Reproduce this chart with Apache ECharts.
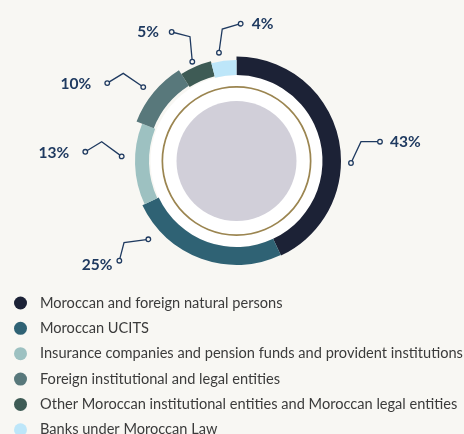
<!DOCTYPE html>
<html>
<head>
<meta charset="utf-8">
<style>
  html, body { margin: 0; padding: 0; background: #f8f7f3; }
  #chart { width: 464px; height: 434px; }
</style>
<script src="https://cdn.jsdelivr.net/npm/echarts@6/dist/echarts.min.js"></script>
</head>
<body>
<div id="chart"></div>
<script>
// shareholding structure, in %
var categories = [
  'Moroccan and foreign natural persons',
  'Moroccan UCITS',
  'Insurance companies and pension funds and provident institutions',
  'Foreign institutional and legal entities',
  'Other Moroccan institutional entities and Moroccan legal entities',
  'Banks under Moroccan Law'
];
var shares = [43, 25, 13, 10, 5, 4];
var colors = ['#1c2236', '#2f6274', '#9dc1c1', '#58787b', '#3e5b55', '#bde6f9'];

var navy = '#1f3a60';
var cx = 236.5, cy = 161;
// each slice has its own ring width
var ringRadius = [[86, 104.5], [86, 104], [87.5, 101.5], [89, 107.5], [87.5, 103], [86, 101]];
// leader lines: anchor angle shift (deg) + radius, then bend / end offsets from the anchor
var leaders = [
  { shift: 13.6, r: 114.5, bend: [10, -21.3], end: [29, -21.3], gap: [10, 0], align: 'left' },
  { shift: 28.6, r: 117.9, bend: [-24.3, 3.4], end: [-29, 21.4], gap: [-7, 4], align: 'right' },
  { shift: 4.1, r: 114.9, bend: [-20, -14.6], end: [-36.4, -4.6], gap: [-16, 1], align: 'right' },
  { shift: -1.2, r: 119, bend: [-20, -13.7], end: [-36, -4], gap: [-16, 1], align: 'right' },
  { shift: -0.6, r: 108.7, bend: [-2.3, -25], end: [-20.6, -29.7], gap: [-12.7, 0.3], align: 'right' },
  { shift: -2, r: 109.7, bend: [3.3, -23.7], end: [21.7, -29], gap: [11, 0], align: 'left' }
];

var total = shares.reduce(function (a, b) { return a + b; }, 0);

var series = [];
var graphics = [];
var cum = 0;

// white disc, gold ring and grey centre
series.push({ type: 'pie', silent: true, center: [cx, cy], radius: [0, 86], label: { show: false },
  data: [{ value: 1, itemStyle: { color: '#ffffff' } }] });
series.push({ type: 'pie', silent: true, center: [cx, cy], radius: [73.3, 75], label: { show: false },
  data: [{ value: 1, itemStyle: { color: '#9b8550' } }] });
series.push({ type: 'pie', silent: true, center: [cx, cy], radius: [0, 60], label: { show: false },
  data: [{ value: 1, itemStyle: { color: '#d1cfd9' } }] });

shares.forEach(function (v, i) {
  var L = leaders[i];
  var mid = (cum + v / 2) / total * 360 + L.shift;
  var a = mid * Math.PI / 180;
  var anchor = [cx + L.r * Math.sin(a), cy - L.r * Math.cos(a)];
  var bend = [anchor[0] + L.bend[0], anchor[1] + L.bend[1]];
  var end = [anchor[0] + L.end[0], anchor[1] + L.end[1]];
  var textPos = [end[0] + L.gap[0], end[1] + L.gap[1]];

  series.push({
    type: 'pie',
    silent: true,
    center: [cx, cy],
    radius: ringRadius[i],
    startAngle: 90 - cum / total * 360,
    clockwise: true,
    avoidLabelOverlap: false,
    emphasis: { disabled: true },
    label: {
      show: true,
      formatter: '{c}%',
      color: navy,
      fontFamily: 'Lato',
      fontWeight: 'bold',
      fontSize: 15.5
    },
    labelLine: { show: true, lineStyle: { color: navy, width: 1.3 } },
    labelLayout: function () {
      return {
        x: textPos[0],
        y: textPos[1],
        align: L.align,
        verticalAlign: 'middle',
        labelLinePoints: [anchor, bend, end]
      };
    },
    data: [
      { name: categories[i], value: v, itemStyle: { color: colors[i] } },
      { name: '', value: total - v, itemStyle: { color: 'transparent' },
        label: { show: false }, labelLine: { show: false } }
    ]
  });

  [anchor, end].forEach(function (p) {
    graphics.push({
      type: 'circle', z: 100,
      shape: { cx: p[0], cy: p[1], r: 2.3 },
      style: { fill: '#f8f7f3', stroke: navy, lineWidth: 1.3 }
    });
  });

  cum += v;
});

var chart = echarts.init(document.getElementById('chart'));
chart.setOption({
  backgroundColor: '#f8f7f3',
  animation: false,
  legend: {
    orient: 'vertical',
    left: 14,
    top: 295.5,
    height: 220,
    padding: 0,
    icon: 'circle',
    itemWidth: 13,
    itemHeight: 13,
    itemGap: 10.35,
    selectedMode: false,
    textStyle: { color: '#3b3b3b', fontFamily: 'Lato', fontSize: 14.6, lineHeight: 13, padding: [0, 0, 0, 8] },
    data: categories.map(function (n, i) { return { name: n, itemStyle: { color: colors[i] } }; })
  },
  graphic: graphics,
  series: series
});
</script>
</body>
</html>
